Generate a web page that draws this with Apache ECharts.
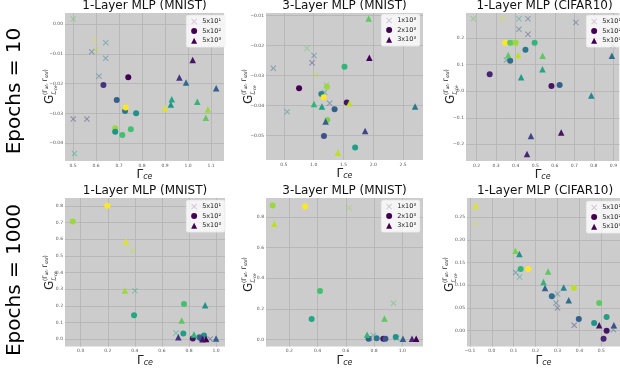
<!DOCTYPE html>
<html>
<head>
<meta charset="utf-8">
<script src="https://cdn.jsdelivr.net/npm/echarts@6.0.0/dist/echarts.min.js"></script>
<style>
  html, body { margin: 0; padding: 0; background: #fff; }
  #chart { width: 620px; height: 368px; }
</style>
</head>
<body>
<div id="chart"></div>
<script>
// [x = Γce, y = G, c = colour value 0..1 on viridis]
const p1Cross = [[0.501,0.0017,0.75],[0.593,-0.0054,0.95],[0.642,-0.0063,0.5],[0.6,-0.0087,0.9],[0.581,-0.0093,0.3],[0.642,-0.0115,0.4],[0.613,-0.0175,0.35],[0.501,-0.0319,0.2],[0.560,-0.0319,0.15],[0.506,-0.0435,0.6]];
const p1Circle = [[0.632,-0.0205,0.15],[0.740,-0.0179,0.0],[0.690,-0.0255,0.3],[0.726,-0.0292,0.4],[0.729,-0.028,1.0],[0.774,-0.030,0.5],[0.683,-0.035,0.85],[0.683,-0.0362,0.5],[0.714,-0.0373,0.7],[0.751,-0.0353,0.7]];
const p1Tri = [[1.020,-0.0121,0.05],[0.962,-0.018,0.15],[0.991,-0.0196,0.35],[1.122,-0.0216,0.3],[0.929,-0.0253,0.6],[0.925,-0.027,0.5],[1.040,-0.0261,0.65],[0.900,-0.0283,0.95],[1.086,-0.0287,0.85],[1.077,-0.0315,0.75]];

const p2Cross = [[0.322,-0.0275,0.3],[0.888,-0.0209,0.75],[1.005,-0.0233,0.35],[0.972,-0.0257,0.15],[1.033,-0.0298,0.9],[1.212,-0.0331,0.75],[1.183,-0.0355,0.5],[1.267,-0.0392,0.3],[0.555,-0.042,0.5]];
const p2Circle = [[0.755,-0.0342,0.0],[1.128,-0.0361,0.45],[1.222,-0.0337,0.85],[1.167,-0.0372,1.0],[1.517,-0.027,0.65],[1.555,-0.0389,0.05],[1.35,-0.0412,0.3],[1.228,-0.0448,0.8],[1.172,-0.0501,0.25],[1.695,-0.0539,0.55]];
const p2Tri = [[1.922,-0.0109,0.75],[1.933,-0.024,0.0],[1.005,-0.0394,0.65],[1.138,-0.0403,0.55],[1.6,-0.0392,0.9],[1.2,-0.0453,0.3],[2.7,-0.0403,0.4],[1.862,-0.0484,0.2],[1.405,-0.0557,0.9]];

const p3Cross = [[0.183,0.273,0.75],[0.333,0.273,0.95],[0.417,0.273,0.6],[0.463,0.273,0.35],[0.417,0.234,0.3],[0.463,0.215,0.2],[0.708,0.259,0.3],[0.897,0.172,0.15],[0.353,0.118,0.5],[0.397,0.183,0.7]];
const p3Circle = [[0.347,0.183,1.0],[0.372,0.183,0.75],[0.4,0.183,0.85],[0.497,0.183,0.65],[0.45,0.156,0.4],[0.372,0.115,0.35],[0.267,0.064,0.1],[0.583,0.02,0.05],[0.625,0.024,0.3]];
const p3Tri = [[0.362,0.137,0.75],[0.413,0.137,0.9],[0.538,0.134,0.75],[0.892,0.134,0.35],[0.537,0.083,0.6],[0.428,0.053,0.55],[0.787,-0.016,0.45],[0.478,-0.169,0.2],[0.633,-0.156,0.05],[0.458,-0.237,0.1]];

const p4Cross = [[0.384,0.531,0.9],[0.401,0.292,0.6],[0.704,0.038,0.6],[0.956,0.002,0.2],[0.89,0.004,0.5]];
const p4Circle = [[0.197,0.802,1.0],[-0.059,0.707,0.85],[0.763,0.212,0.7],[0.394,0.144,0.6],[0.758,0.034,0.55],[0.828,0.004,0.05],[0.877,0.012,0.35],[0.911,0.022,0.5],[0.89,0.004,0.25]];
const p4Tri = [[0.335,0.587,0.95],[0.327,0.293,0.85],[0.919,0.204,0.5],[0.746,0.112,0.75],[0.721,0.012,0.15],[0.837,0.028,0.65],[0.926,0.002,0.0],[1.0,0.004,0.3],[0.9,0.0,0.05]];

const p5Cross = [[0.623,0.86,0.85],[0.937,0.237,0.7],[0.796,0.028,0.55],[0.768,0.01,0.3],[0.96,0.01,0.6]];
const p5Circle = [[0.082,0.874,0.85],[0.311,0.867,1.0],[0.417,0.318,0.7],[0.358,0.135,0.6],[0.761,0.006,0.3],[0.818,0.009,0.4],[0.865,0.006,0.05],[0.88,0.006,0.25],[0.953,0.017,0.5]];
const p5Tri = [[0.094,0.755,0.9],[0.873,0.138,0.75],[0.75,0.032,0.65],[1.004,0.006,0.3],[1.068,0.006,0.1],[1.098,0.006,0.0]];

const p6Cross = [[-0.073,0.235,0.95],[0.109,0.128,0.4],[0.127,0.118,0.6],[0.3,0.081,0.4],[0.293,0.061,0.3],[0.3,0.05,0.25],[0.376,0.012,0.15],[0.555,0.002,0.35]];
const p6Circle = [[0.132,0.136,0.65],[0.166,0.136,1.0],[0.274,0.076,0.35],[0.375,0.094,0.9],[0.49,0.061,0.75],[0.397,0.026,0.3],[0.467,0.017,0.5],[0.524,0.030,0.55],[0.524,0.0,0.05],[0.51,-0.018,0.1]];
const p6Tri = [[-0.073,0.275,0.95],[0.108,0.176,0.8],[0.126,0.169,0.5],[0.257,0.13,0.75],[0.236,0.107,0.65],[0.243,0.094,0.3],[0.328,0.095,0.45],[0.351,0.067,0.35],[0.49,0.012,0.05],[0.557,0.012,0.25]];

const titles = ['1-Layer MLP (MNIST)', '3-Layer MLP (MNIST)', '1-Layer MLP (CIFAR10)',
                '1-Layer MLP (MNIST)', '3-Layer MLP (MNIST)', '1-Layer MLP (CIFAR10)'];
const namesOneLayer = ['5x10¹', '5x10²', '5x10³'];
const namesThreeLayer = ['1x10³', '2x10³', '3x10³'];
const rowLabels = ['Epochs = 10', 'Epochs = 1000'];

const viridis = ['#440154','#482475','#414487','#355f8d','#2a788e','#21918c','#22a884','#44bf70','#7ad151','#bddf26','#fde725'];
const crossPath = 'path://M1.2,0L5,3.8L8.8,0L10,1.2L6.2,5L10,8.8L8.8,10L5,6.2L1.2,10L0,8.8L3.8,5L0,1.2Z';
const FONT = 'DejaVu Sans';

// layout of each subplot
const panels = [
  { data: [p1Cross, p1Circle, p1Tri], names: namesOneLayer,
    grid: { left: 65, right: 396, top: 13, bottom: 207 },
    x: [0.465, 1.156, 0.1, 1], y: [-0.046, 0.0037, 0.01, 2], lab: [50, 104], leg: { right: 395, top: 15 } },
  { data: [p2Cross, p2Circle, p2Tri], names: namesThreeLayer,
    grid: { left: 266, right: 197, top: 13, bottom: 208 },
    x: [0.2, 2.833, 0.5, 1], y: [-0.0581, -0.0091, 0.01, 2], lab: [249, 104], leg: { right: 200, top: 14 } },
  { data: [p3Cross, p3Circle, p3Tri], names: namesOneLayer,
    grid: { left: 466, right: -3, top: 13, bottom: 207 },
    x: [0.146, 0.93, 0.1, 1], y: [-0.263, 0.295, 0.1, 1], lab: [451, 104], leg: { right: -5, top: 15 } },
  { data: [p4Cross, p4Circle, p4Tri], names: namesOneLayer,
    grid: { left: 65, right: 395, top: 198, bottom: 21 },
    x: [-0.116, 1.066, 0.2, 1], y: [-0.044, 0.848, 0.1, 1], lab: [50, 290], leg: { right: 395, top: 200 } },
  { data: [p5Cross, p5Circle, p5Tri], names: namesThreeLayer,
    grid: { left: 266, right: 197, top: 198, bottom: 20 },
    x: [0.035, 1.146, 0.2, 1], y: [-0.045, 0.923, 0.2, 1], lab: [249, 292], leg: { right: 200, top: 200 } },
  { data: [p6Cross, p6Circle, p6Tri], names: namesOneLayer,
    grid: { left: 467, right: -3, top: 198, bottom: 21 },
    x: [-0.113, 0.585, 0.1, 1], y: [-0.035, 0.292, 0.05, 2], lab: [450, 292], leg: { right: -5, top: 201 } }
];

const fmt = (d) => (v) => v.toFixed(d).replace('-', '\u2212');

function axis(i, r, isX) {
  const a = {
    type: 'value', gridIndex: i, min: r[0], max: r[1],
    minInterval: r[2], maxInterval: r[2],
    axisLine: { show: false }, axisTick: { show: false },
    splitLine: { showMinLine: false, showMaxLine: false, lineStyle: { color: '#b2b2b2', width: 0.8 } },
    axisLabel: { fontSize: 4.5, color: '#555', margin: 2, showMinLabel: false, showMaxLabel: false, formatter: fmt(r[3]) }
  };
  if (isX) {
    a.name = '{g|Γ}{s|ce}';
    a.nameLocation = 'middle';
    a.nameGap = 4;
    a.nameTextStyle = {
      rich: {
        g: { fontSize: 12, color: '#222', fontFamily: FONT },
        s: { fontSize: 8, color: '#222', fontStyle: 'italic', fontFamily: FONT, verticalAlign: 'bottom', padding: [5, 0, 0, 0] }
      }
    };
  }
  return a;
}

const grids = [], xAxes = [], yAxes = [], series = [], legends = [], titleComps = [], graphics = [];
const icons = [crossPath, 'circle', 'triangle'];
const legendColors = ['rgba(68,1,84,0.4)', '#440154', '#440154'];

panels.forEach((p, i) => {
  grids.push(Object.assign({ show: true, backgroundColor: '#cccccc', borderWidth: 0 }, p.grid));
  xAxes.push(axis(i, p.x, true));
  yAxes.push(axis(i, p.y, false));
  p.data.forEach((d, k) => {
    series.push({
      type: 'scatter', name: p.names[k], xAxisIndex: i, yAxisIndex: i,
      symbol: icons[k], symbolSize: k === 2 ? 6.5 : 6,
      itemStyle: { color: '#440154', opacity: k === 0 ? 0.45 : 1 },
      data: d
    });
  });
  legends.push({
    orient: 'vertical', right: p.leg.right, top: p.leg.top,
    itemWidth: 6, itemHeight: 6, itemGap: 2.6,
    padding: [3, 4, 3, 5], backgroundColor: 'rgba(255,255,255,0.8)',
    borderColor: '#dcdcdc', borderWidth: 0.5, borderRadius: 2,
    selectedMode: false,
    textStyle: { fontSize: 6.5, color: '#222', fontFamily: FONT },
    data: p.names.map((n, k) => ({ name: n, icon: icons[k], itemStyle: { color: legendColors[k] } }))
  });
  const cx = p.grid.left + (620 - p.grid.left - p.grid.right) / 2;
  titleComps.push({
    text: titles[i], left: cx, top: i < 3 ? 0 : 185, textAlign: 'center', padding: 0,
    textStyle: { fontSize: 12, fontWeight: 'normal', color: '#111', fontFamily: FONT }
  });
  // y-axis label: G with stacked super/subscripts, rotated
  graphics.push({
    type: 'group', x: p.lab[0], y: p.lab[1], rotation: Math.PI / 2,
    children: [
      { type: 'text', x: 0, y: 0, style: { text: 'G', fontSize: 12, fontFamily: FONT, fill: '#222', align: 'left', verticalAlign: 'middle' } },
      { type: 'text', x: 9, y: -5, style: {
          text: '{p|(Γ}{s|at}{p|, Γ}{s|std}{p|)}', fill: '#222', align: 'left', verticalAlign: 'middle',
          rich: { p: { fontSize: 6, fontFamily: FONT, fill: '#222' },
                  s: { fontSize: 4.2, fontFamily: FONT, fill: '#222', fontStyle: 'italic', verticalAlign: 'bottom', padding: [3, 0, 0, 0] } } } },
      { type: 'text', x: 9, y: 4.5, style: {
          text: '{l|ℒ}{s|ce}', fill: '#222', align: 'left', verticalAlign: 'middle',
          rich: { l: { fontSize: 6.5, fontFamily: FONT, fill: '#222', fontStyle: 'italic' },
                  s: { fontSize: 4.2, fontFamily: FONT, fill: '#222', fontStyle: 'italic', verticalAlign: 'bottom', padding: [3, 0, 0, 0] } } } }
    ]
  });
});

rowLabels.forEach((t, r) => {
  graphics.push({
    type: 'text', x: 15, y: r === 0 ? 91 : 280, rotation: Math.PI / 2,
    style: { text: t, fontSize: 20, fontFamily: FONT, fill: '#000', align: 'center', verticalAlign: 'middle' }
  });
});

const chart = echarts.init(document.getElementById('chart'), null, { renderer: 'canvas' });
chart.setOption({
  backgroundColor: '#ffffff',
  animation: false,
  textStyle: { fontFamily: FONT },
  title: titleComps,
  grid: grids,
  xAxis: xAxes,
  yAxis: yAxes,
  legend: legends,
  visualMap: {
    type: 'continuous', show: false, min: 0, max: 1, dimension: 2,
    seriesIndex: series.map((s, i) => i),
    inRange: { color: viridis }
  },
  graphic: graphics,
  series: series
});
</script>
</body>
</html>
